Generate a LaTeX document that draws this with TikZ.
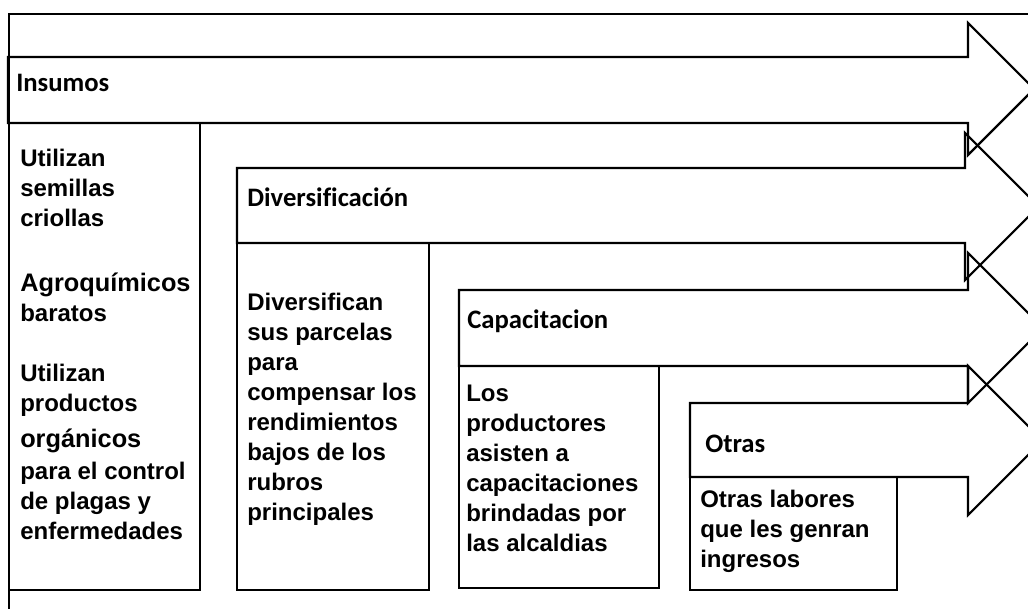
\documentclass[tikz,border=0pt]{standalone}
\usepackage{fontspec}
\setmainfont{Liberation Sans}[Ligatures=NoCommon]
\newfontfamily\headfont{Carlito}[Ligatures=NoCommon]

\begin{document}
\begin{tikzpicture}[x=0.75pt,y=-0.75pt,
                    band/.style={draw=black,
                                 line width=1.6pt,
                                 line join=miter},
                    cbox/.style={draw=black,
                                 line width=2pt},
                    hdr/.style={font=\headfont\bfseries\fontsize{20}{24}\selectfont,
                                anchor=base west,
                                inner sep=0pt},
                    txt/.style={font=\bfseries\fontsize{18}{22.5}\selectfont,
                                align=left,
                                anchor=north west,
                                inner sep=0pt}]
    \useasboundingbox (0,0) rectangle (1028,609);
    \clip (0,0) rectangle (1028,609);
    % outer frame
    \draw[band] (9,609) -- (9,14) -- (1040,14);
    % arrows: left / body top / body bottom / head back / head top / head bottom
    \foreach \xa/\ya/\yb/\xh/\hta/\htb in {8/57/123/968/23/155,
                                           237/168/243/965/133/280,
                                           459/290/366/968/253/403,
                                           690/403/477/968/366/515}
        \draw[band] (\xa,\ya) -- (\xh,\ya) -- (\xh,\hta)
                    -- ({\xh+(\htb-\hta)/2},{(\hta+\htb)/2})
                    -- (\xh,\htb) -- (\xh,\yb) -- (\xa,\yb) -- cycle;
    % content boxes
    \draw[cbox] (9,123)   rectangle (200,590);
    \draw[cbox] (237,243) rectangle (429,590);
    \draw[cbox] (459,366) rectangle (659,588);
    \draw[cbox] (690,477) rectangle (897,590);
    % headers
    \node[hdr] (insumos) at (16,92)  {Insumos};
    \node[hdr] (divers)  at (247,207) {Diversificación};
    \node[hdr] (capac)   at (467,329) {Capacitacion};
    \node[hdr] (otras)   at (705,452) {Otras};
    % texts
    \node[txt] (insTxt) at (20,149) {Utilizan\\ semillas\\ criollas\\[26pt]
        {\fontsize{19}{22.5}\selectfont Agroquímicos}\\ baratos\\[23pt]
        Utilizan\\ productos\\[4pt]
        {\fontsize{19}{22.5}\selectfont orgánicos}\\[1.5pt]
        para el control\\ de plagas y\\ enfermedades};
    \node[txt] (divTxt) at (247,293) {Diversifican\\ sus parcelas\\ para\\
        compensar los\\ rendimientos\\ bajos de los\\ rubros\\ principales};
    \node[txt] (capTxt) at (466,385) {Los\\ productores\\ asisten a\\
        capacitaciones\\ brindadas por\\ las alcaldias};
    \node[txt] (otrTxt) at (700,490) {Otras labores\\ que les genran\\ ingresos};
\end{tikzpicture}
\end{document}
